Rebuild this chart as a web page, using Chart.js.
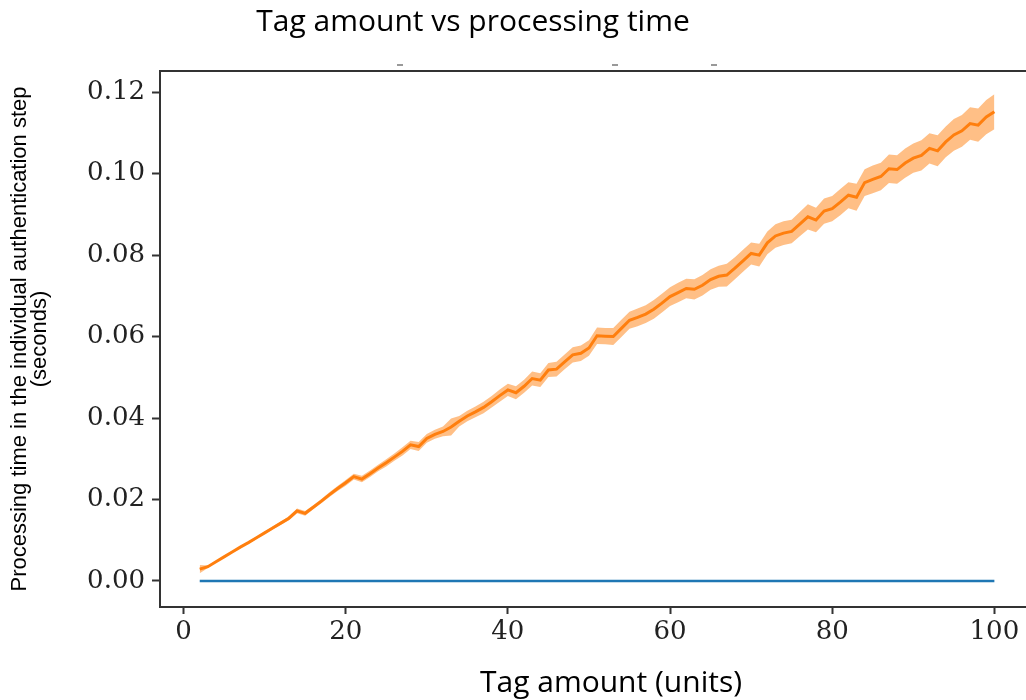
<!DOCTYPE html>
<html>
<head>
<meta charset="utf-8">
<title>Tag amount vs processing time</title>
<script src="https://cdn.jsdelivr.net/npm/chart.js@4.4.1/dist/chart.umd.min.js"></script>
<style>
    html, body { margin: 0; padding: 0; background: #fff; overflow: hidden; }
    #wrap { width: 1026px; height: 700px; }
</style>
</head>
<body>
<div id="wrap"><canvas id="timeChart" width="1026" height="700"></canvas></div>
<script>
var chartTitle = 'Tag amount vs processing time';
var xTitle = 'Tag amount (units)';
var yTitle = ['Processing time in the individual authentication step', '(seconds)'];

var tagAmounts = [
    2, 3, 4, 5, 6, 7, 8, 9, 10, 11,
    12, 13, 14, 15, 16, 17, 18, 19, 20, 21,
    22, 23, 24, 25, 26, 27, 28, 29, 30, 31,
    32, 33, 34, 35, 36, 37, 38, 39, 40, 41,
    42, 43, 44, 45, 46, 47, 48, 49, 50, 51,
    52, 53, 54, 55, 56, 57, 58, 59, 60, 61,
    62, 63, 64, 65, 66, 67, 68, 69, 70, 71,
    72, 73, 74, 75, 76, 77, 78, 79, 80, 81,
    82, 83, 84, 85, 86, 87, 88, 89, 90, 91,
    92, 93, 94, 95, 96, 97, 98, 99, 100
];

// orange: mean processing time (seconds)
var orangeTimes = [
    0.0029, 0.0035, 0.0047, 0.0059, 0.0071, 0.0083, 0.0094, 0.0106, 0.0118, 0.0130,
    0.0142, 0.0154, 0.0172, 0.0166, 0.0181, 0.0196, 0.0212, 0.0227, 0.0241, 0.0256,
    0.0250, 0.0263, 0.0277, 0.0290, 0.0304, 0.0318, 0.0334, 0.0330, 0.0350, 0.0360,
    0.0367, 0.0378, 0.0392, 0.0405, 0.0415, 0.0426, 0.0440, 0.0455, 0.0469, 0.0462,
    0.0478, 0.0497, 0.0493, 0.0518, 0.0520, 0.0538, 0.0555, 0.0559, 0.0572, 0.0602,
    0.0601, 0.0600, 0.0620, 0.0640, 0.0647, 0.0655, 0.0667, 0.0682, 0.0698, 0.0708,
    0.0718, 0.0716, 0.0726, 0.0740, 0.0748, 0.0751, 0.0768, 0.0786, 0.0804, 0.0800,
    0.0830, 0.0847, 0.0854, 0.0858, 0.0876, 0.0894, 0.0886, 0.0908, 0.0914, 0.0930,
    0.0947, 0.0942, 0.0978, 0.0986, 0.0993, 0.1012, 0.1010, 0.1026, 0.1038, 0.1045,
    0.1062, 0.1056, 0.1078, 0.1095, 0.1105, 0.1123, 0.1119, 0.1139, 0.1152
];

// half width of the shaded band around the orange line
var orangeSpread = [
    0.0010, 0.0003, 0.0002, 0.0002, 0.0002, 0.0003, 0.0003, 0.0003, 0.0003, 0.0004,
    0.0004, 0.0005, 0.0006, 0.0006, 0.0005, 0.0005, 0.0006, 0.0006, 0.0007, 0.0007,
    0.0008, 0.0008, 0.0008, 0.0009, 0.0009, 0.0010, 0.0010, 0.0011, 0.0011, 0.0011,
    0.0012, 0.0021, 0.0013, 0.0013, 0.0013, 0.0014, 0.0014, 0.0015, 0.0015, 0.0016,
    0.0016, 0.0017, 0.0017, 0.0017, 0.0018, 0.0018, 0.0019, 0.0019, 0.0019, 0.0020,
    0.0020, 0.0021, 0.0021, 0.0021, 0.0022, 0.0022, 0.0023, 0.0023, 0.0023, 0.0024,
    0.0024, 0.0025, 0.0025, 0.0025, 0.0026, 0.0028, 0.0027, 0.0027, 0.0027, 0.0028,
    0.0028, 0.0029, 0.0029, 0.0029, 0.0030, 0.0031, 0.0030, 0.0031, 0.0031, 0.0032,
    0.0032, 0.0033, 0.0033, 0.0034, 0.0034, 0.0035, 0.0035, 0.0036, 0.0036, 0.0037,
    0.0037, 0.0038, 0.0038, 0.0039, 0.0039, 0.0040, 0.0041, 0.0042, 0.0043
];

// blue: the other method, flat at zero
var blueTimes = [
    0, 0, 0, 0, 0, 0, 0, 0, 0, 0,
    0, 0, 0, 0, 0, 0, 0, 0, 0, 0,
    0, 0, 0, 0, 0, 0, 0, 0, 0, 0,
    0, 0, 0, 0, 0, 0, 0, 0, 0, 0,
    0, 0, 0, 0, 0, 0, 0, 0, 0, 0,
    0, 0, 0, 0, 0, 0, 0, 0, 0, 0,
    0, 0, 0, 0, 0, 0, 0, 0, 0, 0,
    0, 0, 0, 0, 0, 0, 0, 0, 0, 0,
    0, 0, 0, 0, 0, 0, 0, 0, 0, 0,
    0, 0, 0, 0, 0, 0, 0, 0, 0
];

var xTicks = [0, 20, 40, 60, 80, 100];
var yTicks = [0.00, 0.02, 0.04, 0.06, 0.08, 0.10, 0.12];

function points(values) {
    return tagAmounts.map(function (x, i) { return { x: x, y: values[i] }; });
}
var lowerBand = orangeTimes.map(function (v, i) { return v - orangeSpread[i]; });
var upperBand = orangeTimes.map(function (v, i) { return v + orangeSpread[i]; });

var tickFont = { family: '"DejaVu Serif", serif', size: 26 };
var axisColor = '#333333';

// top spine (the right one is cut off by the page edge), captions, stray marks above the frame
var framePlugin = {
    id: 'frameAndCaptions',
    afterDraw: function (chart) {
        var ctx = chart.ctx;
        var a = chart.chartArea;
        ctx.save();
        ctx.strokeStyle = axisColor;
        ctx.lineWidth = 2;
        ctx.beginPath();
        ctx.moveTo(a.left, a.top);
        ctx.lineTo(a.right, a.top);
        ctx.stroke();

        ctx.strokeStyle = '#999';
        [400, 615, 714].forEach(function (px) {
            ctx.beginPath();
            ctx.moveTo(px - 3, a.top - 6);
            ctx.lineTo(px + 3, a.top - 6);
            ctx.stroke();
        });

        ctx.fillStyle = '#000';
        ctx.textAlign = 'center';
        ctx.textBaseline = 'alphabetic';
        ctx.font = '30px "Open Sans", sans-serif';
        ctx.fillText(chartTitle, 473, 31);
        ctx.fillText(xTitle, 611, 692);
        ctx.restore();
    }
};

var ctx = document.getElementById('timeChart').getContext('2d');
var timeChart = new Chart(ctx, {
    type: 'line',
    data: {
        datasets: [
            {
                label: 'orange mean',
                data: points(orangeTimes),
                borderColor: '#ff7f0e',
                borderWidth: 3,
                pointRadius: 0,
                tension: 0,
                fill: false
            },
            {
                label: 'orange lower',
                data: points(lowerBand),
                borderWidth: 0,
                borderColor: 'rgba(0,0,0,0)',
                pointRadius: 0,
                fill: false
            },
            {
                label: 'orange upper',
                data: points(upperBand),
                borderWidth: 0,
                borderColor: 'rgba(0,0,0,0)',
                backgroundColor: 'rgba(255, 127, 14, 0.5)',
                pointRadius: 0,
                fill: 1
            },
            {
                label: 'blue',
                data: points(blueTimes),
                borderColor: '#1f77b4',
                borderWidth: 2.5,
                pointRadius: 0,
                tension: 0,
                fill: false
            }
        ]
    },
    options: {
        responsive: false,
        animation: false,
        devicePixelRatio: 1,
        layout: { padding: { top: 71, right: 0, left: 0, bottom: 0 } },
        plugins: {
            legend: { display: false },
            tooltip: { enabled: false },
            title: { display: false }
        },
        scales: {
            x: {
                type: 'linear',
                min: -2.9,
                max: 103.9,
                afterFit: function (scale) { scale.height = 93; },
                afterBuildTicks: function (scale) {
                    scale.ticks = xTicks.map(function (v) { return { value: v }; });
                },
                border: { display: true, color: axisColor, width: 2 },
                grid: { drawOnChartArea: false, drawTicks: true, tickLength: 7, tickWidth: 2, tickColor: axisColor },
                ticks: {
                    font: tickFont,
                    color: '#222',
                    padding: 3,
                    maxRotation: 0,
                    callback: function (v) { return String(v); }
                }
            },
            y: {
                min: -0.0064,
                max: 0.1252,
                afterFit: function (scale) { scale.width = 160; },
                afterBuildTicks: function (scale) {
                    scale.ticks = yTicks.map(function (v) { return { value: v }; });
                },
                border: { display: true, color: axisColor, width: 2 },
                grid: { drawOnChartArea: false, drawTicks: true, tickLength: 8, tickWidth: 2, tickColor: axisColor },
                ticks: {
                    font: tickFont,
                    color: '#222',
                    padding: 7,
                    callback: function (v) { return Number(v).toFixed(2); }
                },
                title: {
                    display: true,
                    text: yTitle,
                    color: '#000',
                    font: { family: '"Liberation Sans", Arial, sans-serif', size: 22, lineHeight: 0.95 },
                    padding: { top: 9, bottom: 0 }
                }
            }
        }
    },
    plugins: [framePlugin]
});
</script>
</body>
</html>
